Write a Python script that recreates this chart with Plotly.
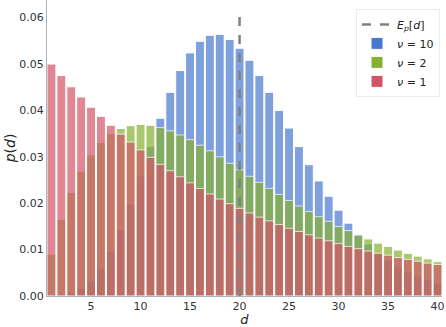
import plotly.graph_objects as go

d_values = list(range(1, 41))

p_nu10 = [0.0000, 0.0002, 0.0007, 0.0016, 0.0032, 0.0059, 0.0096, 0.0142, 0.0198, 0.0259,
          0.0322, 0.0383, 0.0439, 0.0486, 0.0524, 0.0549, 0.0562, 0.0564, 0.0553, 0.0534,
          0.0508, 0.0475, 0.0439, 0.0400, 0.0362, 0.0322, 0.0283, 0.0248, 0.0215, 0.0185,
          0.0157, 0.0133, 0.0112, 0.0093, 0.0077, 0.0064, 0.0052, 0.0043, 0.0035, 0.0028]

p_nu2 = [0.0090, 0.0165, 0.0223, 0.0269, 0.0304, 0.0331, 0.0350, 0.0361, 0.0367, 0.0370,
         0.0368, 0.0363, 0.0356, 0.0347, 0.0337, 0.0325, 0.0313, 0.0300, 0.0286, 0.0272,
         0.0258, 0.0245, 0.0232, 0.0219, 0.0206, 0.0194, 0.0182, 0.0171, 0.0161, 0.0150,
         0.0141, 0.0131, 0.0123, 0.0114, 0.0107, 0.0099, 0.0092, 0.0086, 0.0080, 0.0074]

p_nu1 = [0.0500, 0.0475, 0.0451, 0.0429, 0.0407, 0.0387, 0.0368, 0.0349, 0.0332, 0.0315,
         0.0299, 0.0284, 0.0270, 0.0257, 0.0244, 0.0232, 0.0220, 0.0209, 0.0199, 0.0189,
         0.0179, 0.0170, 0.0162, 0.0154, 0.0146, 0.0139, 0.0132, 0.0125, 0.0119, 0.0113,
         0.0107, 0.0102, 0.0097, 0.0092, 0.0088, 0.0083, 0.0079, 0.0075, 0.0071, 0.0068]

expected_d = 20
expected_line_top = 0.0605

x_ticks = [5, 10, 15, 20, 25, 30, 35, 40]
y_ticks = [0.00, 0.01, 0.02, 0.03, 0.04, 0.05, 0.06]

series = [
    ("<i>ν</i> = 10", p_nu10, "#4878d0", 2),
    ("<i>ν</i> = 2", p_nu2, "#86b130", 3),
    ("<i>ν</i> = 1", p_nu1, "#d25566", 4),
]

fig = go.Figure()
for name, vals, color, rank in series:
    fig.add_trace(go.Bar(
        x=d_values, y=vals, name=name, width=0.9,
        marker=dict(color=color, opacity=0.7, line=dict(color="white", width=1)),
        legendrank=rank,
    ))

fig.add_trace(go.Scatter(
    x=[expected_d, expected_d], y=[0, expected_line_top], mode="lines",
    name="<i>E<sub>p</sub></i>[<i>d</i>]",
    line=dict(color="#808080", width=2.5, dash="dash"),
    legendrank=1,
))

fig.update_layout(
    width=446, height=327,
    barmode="overlay",
    plot_bgcolor="white", paper_bgcolor="white",
    margin=dict(l=47, r=4, t=0, b=31, autoexpand=False),
    font=dict(family="DejaVu Sans", size=11, color="#333333"),
    legend=dict(
        x=0.995, y=0.97, xanchor="right", yanchor="top",
        bgcolor="rgba(255,255,255,0.9)", bordercolor="rgba(0,0,0,0.08)", borderwidth=1,
        font=dict(size=11, color="#222222"),
        traceorder="normal", itemwidth=30, tracegroupgap=1,
    ),
    xaxis=dict(
        range=[0.55, 40.45], tickvals=x_ticks, showgrid=False, zeroline=False,
        showline=True, linecolor="#aab4be", linewidth=1, ticks="", automargin=False,
        tickfont=dict(size=11), ticklabelstandoff=0,
        title=dict(text="<i>d</i>", font=dict(size=13, color="#222222"), standoff=3),
    ),
    yaxis=dict(
        range=[0, 0.0638], tickvals=y_ticks, tickformat=".2f", showgrid=False, zeroline=False,
        showline=True, linecolor="#aab4be", linewidth=1, ticks="", automargin=False,
        title=dict(text="<i>p</i>(<i>d</i>)", font=dict(size=14, color="#222222"), standoff=0),
    ),
)

fig.write_html(
    "out.html",
    config={"displayModeBar": False, "staticPlot": True},
    post_script="document.body.style.margin='0px';document.body.style.overflow='hidden';",
)
